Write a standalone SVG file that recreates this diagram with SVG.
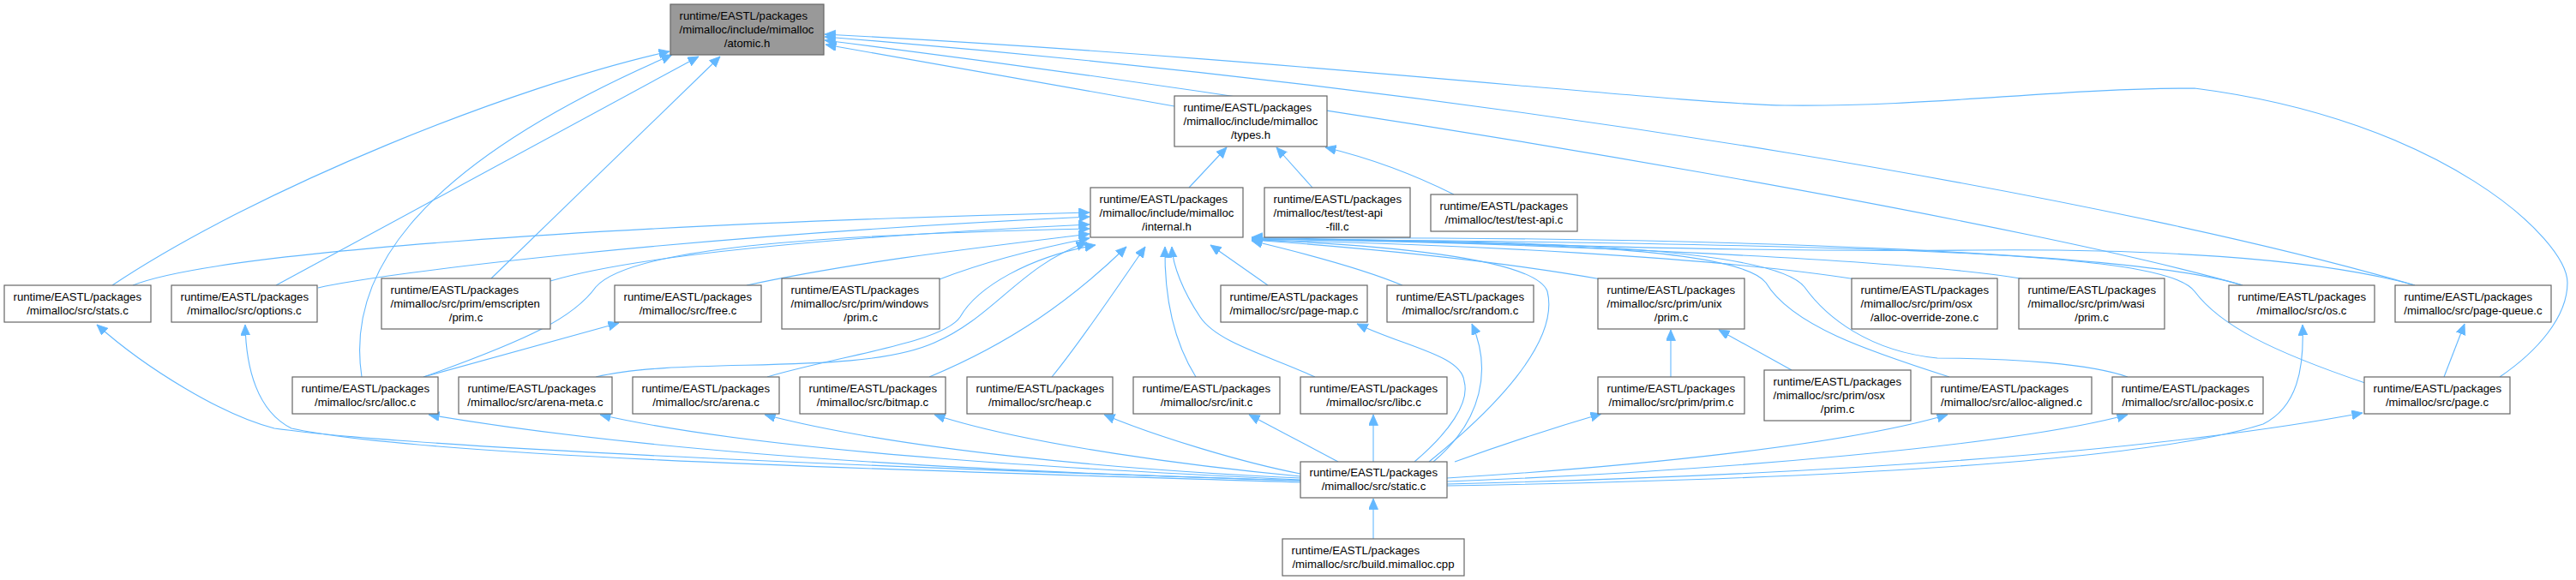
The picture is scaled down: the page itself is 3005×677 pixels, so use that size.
<svg xmlns="http://www.w3.org/2000/svg" width="3005" height="677" viewBox="0 0 3005 677">
<style>
.n rect{fill:#ffffff;stroke:#666666;stroke-width:1.2}
.n.hl rect{fill:#999999}
text{font-family:"Liberation Sans",Arial,Helvetica,sans-serif;font-size:13.2px;fill:#000000}
.c{text-anchor:middle}
.e path{fill:none;stroke:#63b8ff;stroke-width:1.1;marker-end:url(#ah)}
</style>
<defs>
<marker id="ah" markerUnits="userSpaceOnUse" markerWidth="14" markerHeight="12" refX="12.5" refY="5.5" orient="auto">
<path d="M0,0 L12.5,5.5 L0,11 z" fill="#63b8ff" stroke="#63b8ff" stroke-width="0.8"/>
</marker>
</defs>
<rect width="3005" height="677" fill="#ffffff"/>
<g id="edges" class="e">
<!-- to atomic.h -->
<path d="M131,333 C300,220 600,100 781,60"/>
<path d="M322,333 C480,248 640,160 815,66"/>
<path d="M422,440 C405,330 470,200 784,64"/>
<path d="M573,325 L840,66"/>
<path d="M1370,124 L963,52"/>
<path d="M2616,333 C2400,270 1700,140 962,47"/>
<path d="M2817,333 C2500,240 1800,110 962,43"/>
<path d="M2916,440 C2960,410 2995,370 2995,330 C2995,280 2850,140 2560,103 C2400,103 2250,125 2082,123 C1950,121 1500,68 962,40"/>
<!-- to types.h -->
<path d="M1387,219 L1431,172"/>
<path d="M1531,219 L1489,172"/>
<path d="M1696,227 C1650,204 1600,185 1546,172"/>
<!-- to internal.h, left side -->
<path d="M155,333 C250,295 700,262 1271,248"/>
<path d="M371,336 C450,318 800,275 1271,253"/>
<path d="M642,328 C720,305 900,280 1271,262"/>
<path d="M494,440 C620,395 670,370 695,335 C730,295 900,275 1271,267"/>
<path d="M871,333 C1000,305 1150,288 1271,273"/>
<path d="M1096,326 C1150,305 1210,290 1271,278"/>
<!-- to internal.h, bottom -->
<path d="M695,440 C800,415 1000,440 1090,400 C1160,370 1190,310 1268,283"/>
<path d="M895,440 C980,415 1100,400 1120,370 C1140,335 1200,300 1278,286"/>
<path d="M1084,440 C1180,400 1250,350 1314,288"/>
<path d="M1227,440 C1260,400 1300,340 1336,288"/>
<path d="M1395,440 C1370,400 1358,350 1359,288"/>
<path d="M1534,440 C1480,415 1420,400 1400,370 C1380,340 1368,310 1367,288"/>
<path d="M1479,333 L1412,286"/>
<!-- to internal.h, right side -->
<path d="M1636,333 C1600,318 1540,300 1460,281"/>
<path d="M1868,326 C1750,305 1600,290 1460,280"/>
<path d="M2165,326 C2000,300 1700,285 1460,280"/>
<path d="M2362,326 C2250,305 1800,283 1460,279"/>
<path d="M2616,333 C2500,295 2000,275 1460,278"/>
<path d="M2817,333 C2700,300 2500,290 2300,292 C2000,295 1700,282 1460,277"/>
<path d="M2274,440 C2180,410 2090,380 2060,330 C2030,290 1800,282 1460,279"/>
<path d="M2482,440 C2440,425 2350,418 2260,418 C2180,410 2130,370 2105,335 C2070,290 1800,280 1460,279"/>
<path d="M2759,447 C2650,410 2590,380 2560,340 C2530,300 2300,285 1460,279"/>
<path d="M1667,539 C1740,480 1820,400 1805,340 C1790,300 1600,285 1460,280"/>
<!-- misc -->
<path d="M494,440 L722,377"/>
<path d="M1949,440 L1949,385"/>
<path d="M2090,432 L2005,385"/>
<path d="M2851,440 L2875,378"/>
<!-- from static.c -->
<path d="M1517,561 C1100,548 500,525 320,500 C260,485 170,430 113,379"/>
<path d="M1517,563 C1100,550 500,535 340,500 C300,480 287,430 286,379"/>
<path d="M1517,561 C1200,552 800,535 500,484"/>
<path d="M1517,560 C1300,550 900,530 700,484"/>
<path d="M1517,558 C1300,548 1050,525 892,484"/>
<path d="M1517,556 C1400,545 1200,520 1090,484"/>
<path d="M1517,553 C1450,540 1350,510 1288,484"/>
<path d="M1561,539 L1457,484"/>
<path d="M1602,539 L1602,484"/>
<path d="M1650,539 C1690,505 1715,470 1708,445 C1705,415 1640,405 1583,378"/>
<path d="M1672,539 C1730,490 1740,430 1717,378"/>
<path d="M1697,539 C1750,520 1810,500 1868,483"/>
<path d="M1688,558 C1900,545 2150,520 2272,484"/>
<path d="M1688,562 C2000,550 2350,520 2482,484"/>
<path d="M1688,565 C2100,555 2500,530 2756,482"/>
<path d="M1688,567 C2100,560 2500,540 2640,495 C2680,475 2688,430 2686,379"/>
<path d="M1602,629 L1602,582"/>
</g>
<g id="atomic_h" class="n hl"><rect x="782" y="5" width="179" height="59"/><text x="792.5" y="22.5">runtime/EASTL/packages</text><text x="792.5" y="38.5">/mimalloc/include/mimalloc</text><text class="c" x="871.5" y="54.5">/atomic.h</text></g>
<g id="types_h" class="n"><rect x="1370" y="112" width="178" height="59"/><text x="1380.5" y="129.5">runtime/EASTL/packages</text><text x="1380.5" y="145.5">/mimalloc/include/mimalloc</text><text class="c" x="1459" y="161.5">/types.h</text></g>
<g id="internal_h" class="n"><rect x="1272" y="219" width="178" height="58"/><text x="1282.5" y="236.5">runtime/EASTL/packages</text><text x="1282.5" y="252.5">/mimalloc/include/mimalloc</text><text class="c" x="1361" y="268.5">/internal.h</text></g>
<g id="test_api_fill_c" class="n"><rect x="1475" y="219" width="170" height="58"/><text x="1485.5" y="236.5">runtime/EASTL/packages</text><text x="1485.5" y="252.5">/mimalloc/test/test-api</text><text class="c" x="1560" y="268.5">-fill.c</text></g>
<g id="test_api_c" class="n"><rect x="1669" y="227" width="171" height="43"/><text x="1679.5" y="244.5">runtime/EASTL/packages</text><text class="c" x="1754.5" y="260.5">/mimalloc/test/test-api.c</text></g>
<g id="stats_c" class="n"><rect x="5" y="333" width="171" height="43"/><text x="15.5" y="350.5">runtime/EASTL/packages</text><text class="c" x="90.5" y="366.5">/mimalloc/src/stats.c</text></g>
<g id="options_c" class="n"><rect x="200" y="333" width="170" height="43"/><text x="210.5" y="350.5">runtime/EASTL/packages</text><text class="c" x="285" y="366.5">/mimalloc/src/options.c</text></g>
<g id="emscripten_prim_c" class="n"><rect x="445" y="325" width="197" height="59"/><text x="455.5" y="342.5">runtime/EASTL/packages</text><text x="455.5" y="358.5">/mimalloc/src/prim/emscripten</text><text class="c" x="543.5" y="374.5">/prim.c</text></g>
<g id="free_c" class="n"><rect x="717" y="333" width="171" height="43"/><text x="727.5" y="350.5">runtime/EASTL/packages</text><text class="c" x="802.5" y="366.5">/mimalloc/src/free.c</text></g>
<g id="windows_prim_c" class="n"><rect x="912" y="325" width="184" height="59"/><text x="922.5" y="342.5">runtime/EASTL/packages</text><text x="922.5" y="358.5">/mimalloc/src/prim/windows</text><text class="c" x="1004" y="374.5">/prim.c</text></g>
<g id="page_map_c" class="n"><rect x="1424" y="333" width="171" height="43"/><text x="1434.5" y="350.5">runtime/EASTL/packages</text><text class="c" x="1509.5" y="366.5">/mimalloc/src/page-map.c</text></g>
<g id="random_c" class="n"><rect x="1618" y="333" width="171" height="43"/><text x="1628.5" y="350.5">runtime/EASTL/packages</text><text class="c" x="1703.5" y="366.5">/mimalloc/src/random.c</text></g>
<g id="unix_prim_c" class="n"><rect x="1864" y="325" width="171" height="59"/><text x="1874.5" y="342.5">runtime/EASTL/packages</text><text x="1874.5" y="358.5">/mimalloc/src/prim/unix</text><text class="c" x="1949.5" y="374.5">/prim.c</text></g>
<g id="alloc_override_zone_c" class="n"><rect x="2160" y="325" width="170" height="59"/><text x="2170.5" y="342.5">runtime/EASTL/packages</text><text x="2170.5" y="358.5">/mimalloc/src/prim/osx</text><text class="c" x="2245" y="374.5">/alloc-override-zone.c</text></g>
<g id="wasi_prim_c" class="n"><rect x="2355" y="325" width="170" height="59"/><text x="2365.5" y="342.5">runtime/EASTL/packages</text><text x="2365.5" y="358.5">/mimalloc/src/prim/wasi</text><text class="c" x="2440" y="374.5">/prim.c</text></g>
<g id="os_c" class="n"><rect x="2600" y="333" width="170" height="43"/><text x="2610.5" y="350.5">runtime/EASTL/packages</text><text class="c" x="2685" y="366.5">/mimalloc/src/os.c</text></g>
<g id="page_queue_c" class="n"><rect x="2794" y="333" width="182" height="43"/><text x="2804.5" y="350.5">runtime/EASTL/packages</text><text class="c" x="2885" y="366.5">/mimalloc/src/page-queue.c</text></g>
<g id="alloc_c" class="n"><rect x="341" y="440" width="170" height="43"/><text x="351.5" y="457.5">runtime/EASTL/packages</text><text class="c" x="426" y="473.5">/mimalloc/src/alloc.c</text></g>
<g id="arena_meta_c" class="n"><rect x="535" y="440" width="179" height="43"/><text x="545.5" y="457.5">runtime/EASTL/packages</text><text class="c" x="624.5" y="473.5">/mimalloc/src/arena-meta.c</text></g>
<g id="arena_c" class="n"><rect x="738" y="440" width="171" height="43"/><text x="748.5" y="457.5">runtime/EASTL/packages</text><text class="c" x="823.5" y="473.5">/mimalloc/src/arena.c</text></g>
<g id="bitmap_c" class="n"><rect x="933" y="440" width="170" height="43"/><text x="943.5" y="457.5">runtime/EASTL/packages</text><text class="c" x="1018" y="473.5">/mimalloc/src/bitmap.c</text></g>
<g id="heap_c" class="n"><rect x="1128" y="440" width="170" height="43"/><text x="1138.5" y="457.5">runtime/EASTL/packages</text><text class="c" x="1213" y="473.5">/mimalloc/src/heap.c</text></g>
<g id="init_c" class="n"><rect x="1322" y="440" width="171" height="43"/><text x="1332.5" y="457.5">runtime/EASTL/packages</text><text class="c" x="1407.5" y="473.5">/mimalloc/src/init.c</text></g>
<g id="libc_c" class="n"><rect x="1517" y="440" width="171" height="43"/><text x="1527.5" y="457.5">runtime/EASTL/packages</text><text class="c" x="1602.5" y="473.5">/mimalloc/src/libc.c</text></g>
<g id="prim_prim_c" class="n"><rect x="1864" y="440" width="171" height="43"/><text x="1874.5" y="457.5">runtime/EASTL/packages</text><text class="c" x="1949.5" y="473.5">/mimalloc/src/prim/prim.c</text></g>
<g id="osx_prim_c" class="n"><rect x="2058" y="432" width="171" height="59"/><text x="2068.5" y="449.5">runtime/EASTL/packages</text><text x="2068.5" y="465.5">/mimalloc/src/prim/osx</text><text class="c" x="2143.5" y="481.5">/prim.c</text></g>
<g id="alloc_aligned_c" class="n"><rect x="2253" y="440" width="187" height="43"/><text x="2263.5" y="457.5">runtime/EASTL/packages</text><text class="c" x="2346.5" y="473.5">/mimalloc/src/alloc-aligned.c</text></g>
<g id="alloc_posix_c" class="n"><rect x="2464" y="440" width="176" height="43"/><text x="2474.5" y="457.5">runtime/EASTL/packages</text><text class="c" x="2552" y="473.5">/mimalloc/src/alloc-posix.c</text></g>
<g id="page_c" class="n"><rect x="2758" y="440" width="170" height="43"/><text x="2768.5" y="457.5">runtime/EASTL/packages</text><text class="c" x="2843" y="473.5">/mimalloc/src/page.c</text></g>
<g id="static_c" class="n"><rect x="1517" y="539" width="171" height="42"/><text x="1527.5" y="556">runtime/EASTL/packages</text><text class="c" x="1602.5" y="572">/mimalloc/src/static.c</text></g>
<g id="build_mimalloc_cpp" class="n"><rect x="1496" y="629" width="212" height="43"/><text x="1506.5" y="646.5">runtime/EASTL/packages</text><text class="c" x="1602" y="662.5">/mimalloc/src/build.mimalloc.cpp</text></g>
</svg>
